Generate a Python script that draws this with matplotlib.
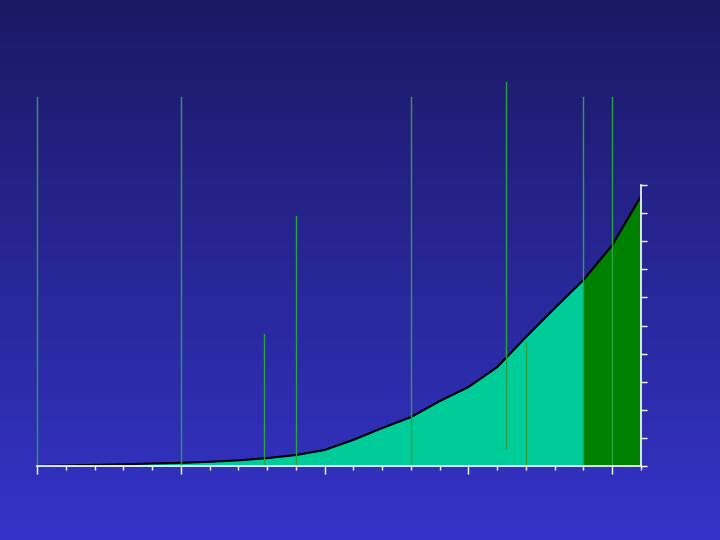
import numpy as np
import matplotlib
matplotlib.use('Agg')
import matplotlib.pyplot as plt
from matplotlib.colors import LinearSegmentedColormap
from matplotlib.ticker import MultipleLocator

# growth curve, one value per year slot (y axis units: 0..10)
years = list(range(22))
values = [0.0, 0.02, 0.04, 0.06, 0.09, 0.11, 0.15, 0.2, 0.28, 0.39, 0.57,
          0.93, 1.35, 1.74, 2.31, 2.81, 3.52, 4.59, 5.62, 6.62, 7.86, 9.6]
split_year = 19

# marker lines: x position, bottom, top
mark_x = [0, 5, 7.9, 9.0, 13.0, 16.3, 17.0, 19.0, 20.0]
mark_bottom = [0, 0, 0, 0, 0, 0.64, 0, 0, 0]
mark_top = [13.13, 13.13, 4.7, 8.9, 13.13, 13.67, 4.4, 13.13, 13.13]

fig = plt.figure(figsize=(7.2, 5.4), dpi=100)

# gradient background
bg = fig.add_axes([0, 0, 1, 1])
cmap = LinearSegmentedColormap.from_list('bg', ['#1b1963', '#3434c9'])
bg.imshow(np.linspace(0, 1, 256).reshape(-1, 1), aspect='auto', cmap=cmap,
          extent=[0, 1, 0, 1], origin='upper')
bg.axis('off')

ax = fig.add_axes([37 / 720, 74 / 540, 604 / 720, 281 / 540])
ax.patch.set_alpha(0)

x = np.array(years, dtype=float)
y = np.array(values)
k = years.index(split_year)
ax.fill_between(x[:k + 1], y[:k + 1], color='#00cc99', lw=0)
ax.fill_between(x[k:], y[k:], color='#008000', lw=0)
ax.plot(x, y, color='black', lw=1.5, zorder=3)

for mx, b, t in zip(mark_x, mark_bottom, mark_top):
    ax.plot([mx, mx], [b, t], color='#2fa040', lw=1, clip_on=False, zorder=4)

ax.set_xlim(0, 21)
ax.set_ylim(0, 10)

for s in ['top', 'left']:
    ax.spines[s].set_visible(False)
for s in ['bottom', 'right']:
    ax.spines[s].set_color('white')
    ax.spines[s].set_linewidth(1.2)
    ax.spines[s].set_zorder(5)

ax.xaxis.set_major_locator(MultipleLocator(5))
ax.xaxis.set_minor_locator(MultipleLocator(1))
ax.yaxis.set_major_locator(MultipleLocator(1))
ax.yaxis.tick_right()
ax.tick_params(axis='x', which='major', colors='white', direction='out', length=6, width=1,
               labelbottom=False)
ax.tick_params(axis='x', which='minor', colors='white', direction='out', length=3, width=1)
ax.tick_params(axis='y', which='major', colors='white', direction='out', length=4, width=1,
               labelright=False, labelleft=False, left=False, right=True)

fig.savefig('out.png', dpi=100)
